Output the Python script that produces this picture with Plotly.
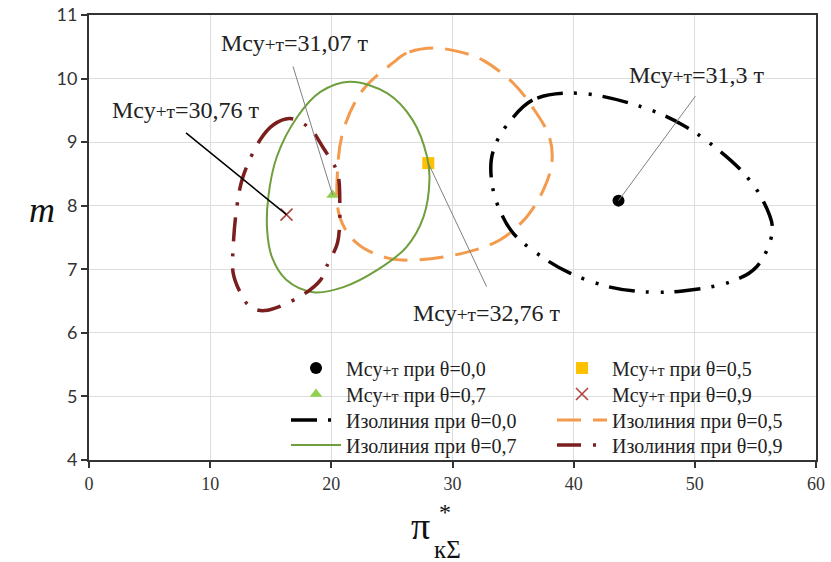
import plotly.graph_objects as go

# ---- data ----
# centre points (optimal total mass) for each theta
theta_labels = ["0,0", "0,5", "0,7", "0,9"]
pt_x = [43.7, 28.0, 20.1, 16.3]
pt_y = [8.08, 8.67, 8.17, 7.86]
mass_labels = ["31,3", "32,76", "31,07", "30,76"]

# isolines
iso0_x = [40.3, 36.6, 34.5, 33.7, 33.2, 33.3, 33.9, 35.0, 37.5, 39.7, 43.0, 46.3, 49.0, 52.9, 55.1, 56.4, 55.6, 54.0, 51.2, 49.0, 45.7, 40.3]
iso0_y = [9.77, 9.66, 9.27, 9.03, 8.72, 8.30, 7.93, 7.57, 7.18, 6.94, 6.72, 6.64, 6.66, 6.80, 7.04, 7.62, 8.09, 8.52, 8.99, 9.27, 9.55, 9.77]

iso5_x = [28.4, 26.2, 25.1, 22.6, 21.0, 20.5, 20.7, 22.1, 24.6, 27.3, 31.2, 33.9, 36.1, 37.5, 38.2, 38.0, 36.6, 35.0, 32.5, 30.6, 28.4]
iso5_y = [10.48, 10.40, 10.25, 9.82, 9.19, 8.52, 7.82, 7.41, 7.18, 7.15, 7.27, 7.46, 7.82, 8.25, 8.67, 9.08, 9.55, 9.93, 10.29, 10.42, 10.48]

iso7_x = [21.5, 19.1, 17.2, 15.5, 14.8, 14.7, 15.1, 16.3, 18.5, 21.0, 23.8, 26.2, 27.6, 28.1, 27.9, 26.7, 24.6, 21.5]
iso7_y = [9.95, 9.79, 9.40, 8.77, 8.14, 7.62, 7.19, 6.83, 6.64, 6.72, 6.99, 7.35, 7.82, 8.41, 8.77, 9.35, 9.77, 9.95]

iso9_x = [16.6, 15.2, 14.1, 12.7, 12.2, 11.9, 11.9, 12.5, 13.3, 14.5, 17.4, 19.1, 19.6, 20.5, 20.7, 20.7, 20.5, 19.3, 18.2, 16.6]
iso9_y = [9.37, 9.27, 9.03, 8.45, 7.98, 7.35, 6.94, 6.63, 6.41, 6.35, 6.57, 6.83, 7.04, 7.41, 7.82, 8.04, 8.52, 8.92, 9.22, 9.37]

x_ticks = [0, 10, 20, 30, 40, 50, 60]
y_ticks = [4, 5, 6, 7, 8, 9, 10, 11]

SERIF = "Liberation Serif, Times New Roman, Tinos, DejaVu Serif, serif"
W, H = 831, 562
L, R, T, B = 89, 15, 15, 102
pw, ph = W - L - R, H - T - B
def px(xp): return (xp - L) / pw
def py(yp): return (H - B - yp) / ph

fig = go.Figure()
LF = dict(family=SERIF, size=20, color="#222")
SMALL = "<span style='font-size:0.8em'>+т</span>"

# legend slots: (column x of legend box, row y centre) in px
col_x = [286, 552]
row_y = [368, 394, 420, 445]

mk_specs = [
    (0, dict(symbol="circle", size=12, color="black"), 0, 0),
    (1, dict(symbol="square", size=12, color="#FFC000"), 1, 0),
    (2, dict(symbol="triangle-up", size=11, color="#92D050"), 0, 1),
    (3, dict(symbol="x-thin", size=12, color="#B0473F", line=dict(width=1.6, color="#B0473F")), 1, 1),
]
iso_specs = [
    (iso0_x, iso0_y, "0,0", "black", 3.5, "26px,11px,3px,12px,3px,11px", 0, 2),
    (iso5_x, iso5_y, "0,5", "#F39A4C", 3, "24px,12px", 1, 2),
    (iso7_x, iso7_y, "0,7", "#6F9E3C", 2, "solid", 0, 3),
    (iso9_x, iso9_y, "0,9", "#7A1E1E", 3.5, "24px,12px,3px,12px", 1, 3),
]

legends = {}
n = 0
def new_legend(c, r):
    global n
    n += 1
    key = "legend" if n == 1 else "legend%d" % n
    legends[key] = dict(x=px(col_x[c]), y=py(row_y[r]), xanchor="left", yanchor="middle",
                        bgcolor="rgba(0,0,0,0)", font=LF, itemwidth=50)
    return key

for i, m, c, r in mk_specs:
    fig.add_trace(go.Scatter(x=[pt_x[i]], y=[pt_y[i]], mode="markers", marker=m,
                             name="Mсу" + SMALL + " при θ=" + theta_labels[i], legend=new_legend(c, r)))

for xs, ys, th, col, w, dash, c, r in iso_specs:
    fig.add_trace(go.Scatter(x=xs, y=ys, mode="lines",
                             line=dict(color=col, width=w, dash=dash, shape="spline", smoothing=1.0),
                             name="Изолиния при θ=" + th, legend=new_legend(c, r)))

# leader lines + labels: (index, tail offset ax, ay in px, label x, y, colour, width)
lead = [
    (0, 78, -106, 50.1, 10.06, "#808080", 1),
    (1, 59, 125, 32.8, 6.31, "#808080", 1),
    (2, -40, -130, 17.0, 10.56, "#808080", 1),
    (3, -102, -83, 8.0, 9.51, "black", 1.5),
]
ann = []
for i, ax, ay, tx, ty, col, w in lead:
    ann.append(dict(x=pt_x[i], y=pt_y[i], xref="x", yref="y", text="", showarrow=True,
                    arrowhead=0, arrowwidth=w, arrowcolor=col, ax=ax, ay=ay, standoff=0))
    ann.append(dict(x=tx, y=ty, xref="x", yref="y", text="Mсу" + SMALL + "=" + mass_labels[i] + " т",
                    showarrow=False, xanchor="center", yanchor="middle",
                    font=dict(family=SERIF, size=24, color="#222")))

ann += [
    dict(x=px(420), y=py(526), xref="paper", yref="paper", text="π", showarrow=False,
         xanchor="center", yanchor="middle", font=dict(family=SERIF, size=38, color="#111")),
    dict(x=px(447), y=py(549), xref="paper", yref="paper", text="кΣ", showarrow=False,
         xanchor="center", yanchor="middle", font=dict(family=SERIF, size=25, color="#111")),
    dict(x=px(445), y=py(512), xref="paper", yref="paper", text="*", showarrow=False,
         xanchor="center", yanchor="middle", font=dict(family=SERIF, size=24, color="#111")),
    dict(x=px(42), y=py(210), xref="paper", yref="paper", text="<i>m</i>", showarrow=False,
         xanchor="center", yanchor="middle", font=dict(family=SERIF, size=36, color="#111")),
]

fig.update_layout(
    width=W, height=H,
    margin=dict(l=L, r=R, t=T, b=B, autoexpand=False),
    paper_bgcolor="white", plot_bgcolor="white",
    showlegend=True,
    annotations=ann,
    xaxis=dict(range=[0, 60], tickvals=x_ticks, showgrid=True, gridcolor="#DDDDDD", gridwidth=1,
               showline=True, linecolor="#333", linewidth=2, mirror=True, zeroline=False,
               ticks="outside", ticklen=6, tickcolor="#333", tickwidth=1.5,
               tickfont=dict(family=SERIF, size=18, color="#333")),
    yaxis=dict(range=[4, 11], tickvals=y_ticks, showgrid=True, gridcolor="#DDDDDD", gridwidth=1,
               showline=True, linecolor="#333", linewidth=2, mirror=True, zeroline=False,
               ticks="outside", ticklen=6, tickcolor="#333", tickwidth=1.5,
               tickfont=dict(family="Lato", size=18, color="#333")),
    **legends,
)

fig.write_html("out.html")
